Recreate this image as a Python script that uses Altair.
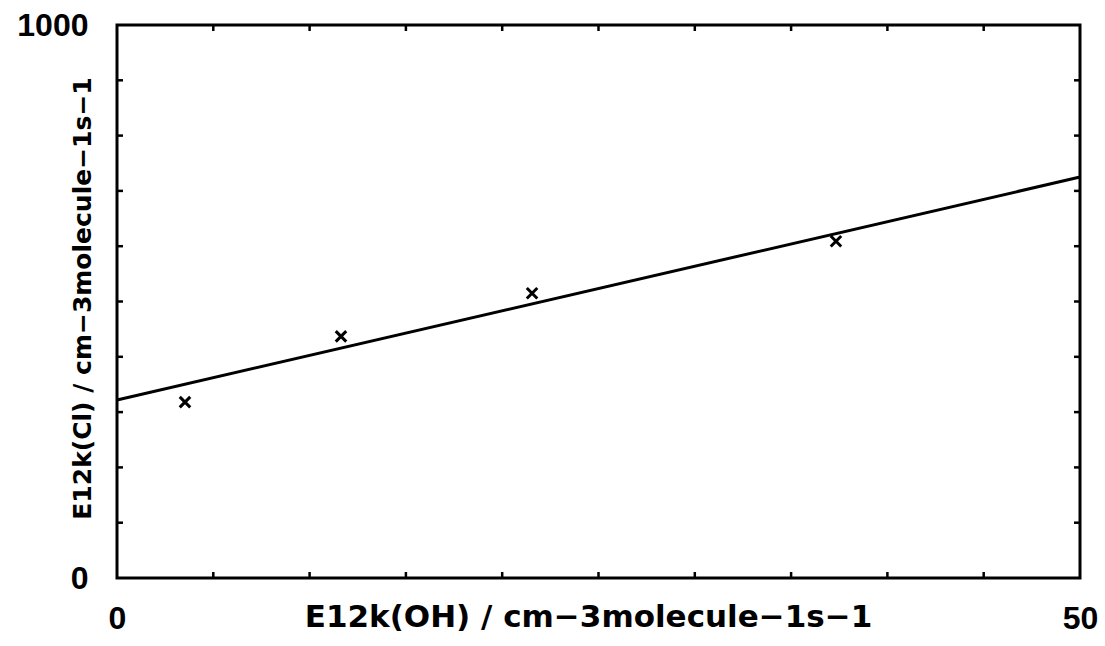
import altair as alt
import pandas as pd

# measured points
pt_x = [3.53, 11.63, 21.55, 37.33]
pt_y = [318, 437, 515, 609]
# fitted line
line_x = [0, 50]
line_y = [322, 725]
# minor tick positions
xticks = [5, 10, 15, 20, 25, 30, 35, 40, 45]
yticks = [100, 200, 300, 400, 500, 600, 700, 800, 900]
x_labels = [0, 50]
y_labels = [0, 1000]

FONT = "Liberation Sans"
TFONT = "DejaVu Sans"
xs = alt.Scale(domain=[0, 50], nice=False, zero=False)
ys = alt.Scale(domain=[0, 1000], nice=False, zero=False)

pts = pd.DataFrame({"x": pt_x, "y": pt_y})
ln = pd.DataFrame({"x": line_x, "y": line_y})
xt = pd.DataFrame({"v": xticks})
yt = pd.DataFrame({"v": yticks})

xaxis = alt.Axis(values=x_labels, format="d", labelFlush=False, ticks=False, domain=False, grid=False,
                 labelFont=FONT, labelFontSize=32, labelFontWeight="bold", labelColor="black",
                 labelPadding=25, title="E12k(OH) / cm−3molecule−1s−1",
                 titleFont=TFONT, titleFontSize=31, titleFontWeight="bold", titleColor="black",
                 titleY=39, titleBaseline="middle", titleX=471)
yaxis = alt.Axis(values=y_labels, format="d", labelFlush=False, ticks=False, domain=False, grid=False,
                 labelFont=FONT, labelFontSize=32, labelFontWeight="bold", labelColor="black",
                 labelPadding=29, title="E12k(Cl) / cm−3molecule−1s−1",
                 titleFont=TFONT, titleFontSize=25, titleFontWeight="bold", titleColor="black",
                 titleAngle=270, titleX=-35, titleY=273, titleBaseline="middle", titleAlign="center")

line = alt.Chart(ln).mark_line(color="black", strokeWidth=3).encode(
    x=alt.X("x:Q", scale=xs, axis=xaxis), y=alt.Y("y:Q", scale=ys, axis=yaxis))

points = alt.Chart(pts).mark_point(
    shape="M-1,-1L1,1M-1,1L1,-1", size=110, strokeWidth=3, color="black", filled=False, opacity=1
).encode(x=alt.X("x:Q", scale=xs), y=alt.Y("y:Q", scale=ys))

tb = alt.Chart(xt).mark_tick(orient="vertical", size=6, thickness=2.5, color="black", yOffset=-3, opacity=1).encode(
    x=alt.X("v:Q", scale=xs), y=alt.datum(0, scale=ys))
tt = alt.Chart(xt).mark_tick(orient="vertical", size=6, thickness=2.5, color="black", yOffset=3, opacity=1).encode(
    x=alt.X("v:Q", scale=xs), y=alt.datum(1000, scale=ys))
tl = alt.Chart(yt).mark_tick(orient="horizontal", size=6, thickness=2.5, color="black", xOffset=3, opacity=1).encode(
    y=alt.Y("v:Q", scale=ys), x=alt.datum(0, scale=xs))
tr = alt.Chart(yt).mark_tick(orient="horizontal", size=6, thickness=2.5, color="black", xOffset=-3, opacity=1).encode(
    y=alt.Y("v:Q", scale=ys), x=alt.datum(50, scale=xs))

chart = alt.layer(line, points, tb, tt, tl, tr).properties(
    width=963, height=553,
    padding={"left": 117, "top": 25, "right": 25, "bottom": 68},
    autosize="none", background="white"
).configure_view(stroke="black", strokeWidth=3)

chart.save("out.html", embed_options={"renderer": "svg", "actions": False})
